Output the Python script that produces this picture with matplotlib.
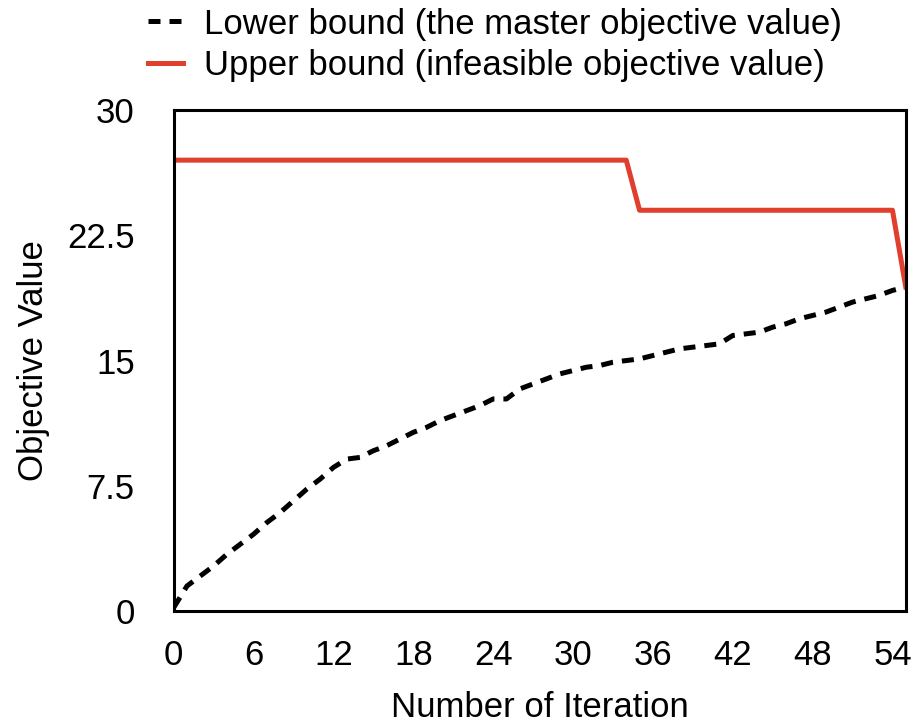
import numpy as np
import matplotlib
matplotlib.use('Agg')
import matplotlib.pyplot as plt

plt.rcParams['font.family'] = ['Liberation Sans', 'DejaVu Sans']

# bounds per iteration
iterations = list(range(0, 56))
lower_bound = [0.2, 1.5, 2.1, 2.7, 3.4, 4.0, 4.6, 5.3, 5.9, 6.6,
               7.3, 7.9, 8.6, 9.1, 9.2, 9.6, 9.9, 10.3, 10.7, 11.0,
               11.4, 11.7, 12.0, 12.3, 12.7, 12.7, 13.3, 13.6, 13.9, 14.2,
               14.4, 14.6, 14.7, 14.9, 15.0, 15.1, 15.3, 15.5, 15.7, 15.8,
               15.9, 16.0, 16.5, 16.6, 16.7, 17.0, 17.2, 17.5, 17.7, 17.9,
               18.2, 18.5, 18.7, 18.9, 19.2, 19.4]
upper_bound = [27.0] * 35 + [24.0] * 20 + [19.4]

xticks = [0, 6, 12, 18, 24, 30, 36, 42, 48, 54]
yticks = [0, 7.5, 15, 22.5, 30]
ytick_labels = ['0', '7.5', '15', '22.5', '30']

fs = 25

fig = plt.figure(figsize=(9.14, 7.24), dpi=100)
ax = fig.add_axes([0.190, 0.156, 0.801, 0.692])

ax.plot(iterations, lower_bound, color='black', lw=3.6,
        linestyle=(0, (2.4, 1.8)), label='Lower bound (the master objective value)')
ax.plot(iterations, upper_bound, color='#DF3F2C', lw=3.6,
        label='Upper bound (infeasible objective value)')

ax.set_xlim(0, 55)
ax.set_ylim(0, 30)
ax.set_xticks(xticks)
ax.set_yticks(yticks)
ax.set_yticklabels(ytick_labels)
ax.tick_params(axis='both', length=0, labelsize=fs)
ax.tick_params(axis='y', pad=28)
ax.tick_params(axis='x', pad=20)
for sp in ax.spines.values():
    sp.set_linewidth(2.2)

ax.set_xlabel('Number of Iteration', fontsize=fs, labelpad=14)
ax.set_ylabel('Objective Value', fontsize=fs, labelpad=12)

leg = ax.legend(loc='lower left', bbox_to_anchor=(-0.073, 1.0), frameon=False,
                fontsize=fs, handlelength=1.0, handletextpad=0.6,
                labelspacing=0.25, borderaxespad=0.4)

fig.savefig('out.png', dpi=100)
